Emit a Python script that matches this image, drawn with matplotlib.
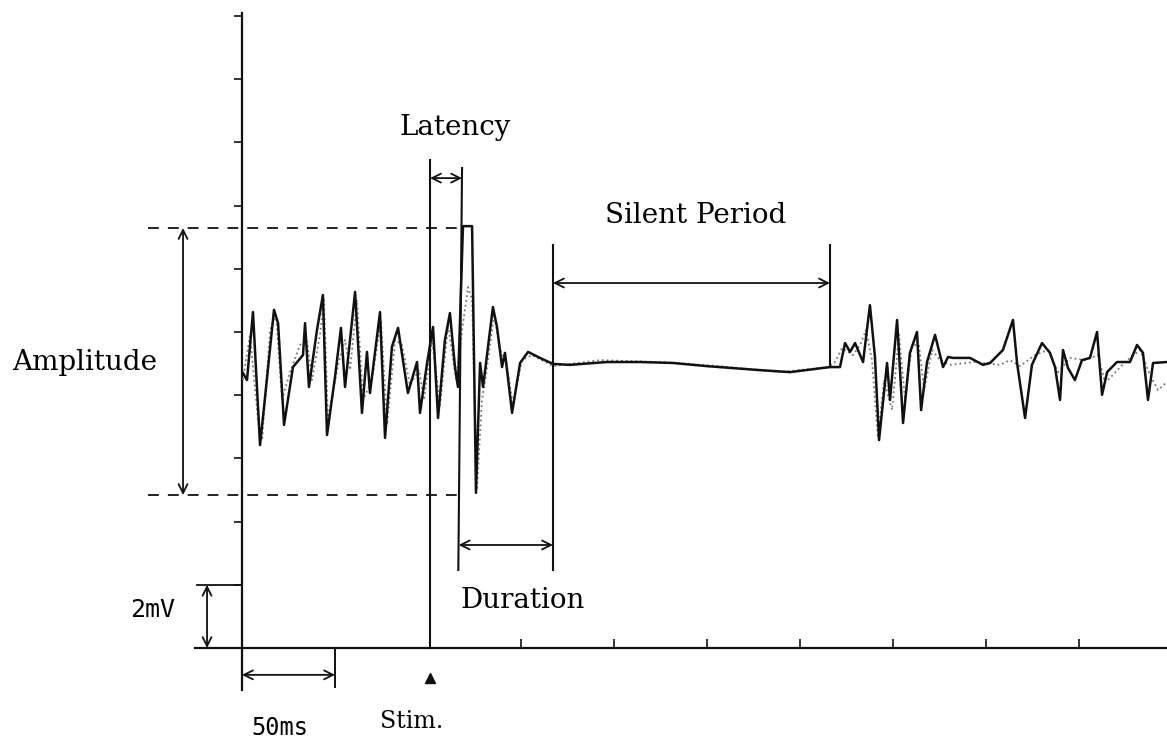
import matplotlib
matplotlib.use("Agg")
import matplotlib.pyplot as plt
import numpy as np

# EMG trace, time in ms from left axis, voltage in mV above the base line
t_main = [0.5, 2.7, 5.9, 9.7, 12.4, 17.2, 19.4, 22.6, 27.4, 32.8, 33.9, 36.0, 40.3, 43.5,
          45.7, 50.0, 53.2, 55.4, 60.8, 64.5, 67.2, 68.8, 74.2, 76.9, 80.6, 83.9, 89.2,
          94.1, 95.7, 99.5, 102.7, 105.4, 109.1, 111.8, 114.5, 116.1, 118.8, 123.7, 125.8,
          128.0, 129.6, 134.9, 137.1, 139.8, 141.4, 145.2, 149.5, 153.8, 160.2, 167.2,
          176.3, 196.2, 214.0, 231.7, 250.0, 276.9, 294.6, 316.1, 321.5, 324.2, 326.9,
          329.6, 333.9, 337.6, 340.3, 342.5, 346.8, 348.4, 352.2, 355.4, 359.1, 362.9,
          365.1, 368.3, 372.6, 376.9, 379.6, 382.3, 391.4, 398.4, 402.2, 409.1, 414.5,
          416.7, 421.0, 424.7, 430.1, 434.4, 437.1, 439.8, 441.4, 444.1, 447.8, 451.6,
          455.9, 459.7, 462.4, 465.1, 470.4, 477.4, 481.2, 484.4, 487.1, 489.8, 497.3]
v_main = [8.70, 8.48, 10.63, 6.42, 7.94, 10.70, 10.28, 7.06, 8.89, 9.27, 10.28, 8.26, 10.06,
          11.17, 6.74, 8.58, 10.13, 8.26, 11.27, 7.44, 9.37, 8.07, 10.63, 6.65, 9.53, 10.13,
          8.07, 9.05, 7.44, 9.02, 10.16, 7.28, 9.75, 10.60, 8.89, 8.26, 13.35, 13.35, 4.91,
          9.02, 8.26, 10.79, 10.16, 8.89, 9.34, 7.44, 9.02, 9.37, 9.18, 8.99, 8.96, 9.05,
          9.05, 9.02, 8.92, 8.80, 8.73, 8.89, 8.89, 9.65, 9.37, 9.65, 9.05, 10.85, 9.21,
          6.58, 9.02, 7.85, 10.38, 7.12, 9.34, 10.00, 7.53, 9.05, 9.91, 8.89, 9.21, 9.18,
          9.18, 8.96, 9.02, 9.43, 10.38, 9.02, 7.28, 8.96, 9.65, 9.34, 8.89, 7.85, 9.43,
          8.86, 8.48, 9.11, 9.18, 10.00, 8.01, 8.73, 9.05, 9.05, 9.59, 9.34, 7.85, 9.02,
          9.05]

# second (overlaid) recording
t_second = [0.5, 4.3, 8.6, 10.8, 15.1, 18.3, 21.5, 25.8, 31.2, 34.9, 37.6, 41.9, 44.1, 46.2,
            51.6, 55.4, 58.1, 61.8, 65.1, 69.9, 74.7, 78.0, 82.3, 86.0, 90.3, 95.2, 97.8,
            102.2, 106.5, 110.8, 115.1, 118.3, 121.5, 123.7, 126.3, 129.0, 131.2, 135.5,
            138.7, 141.9, 145.7, 150.5, 155.9, 167.2, 192.5, 224.7, 257.0, 289.2, 315.1,
            318.8, 322.6, 328.5, 332.3, 335.5, 338.7, 341.9, 345.2, 349.5, 353.2, 356.5,
            360.2, 364.0, 366.7, 371.0, 375.3, 380.6, 393.5, 407.5, 412.9, 418.3, 426.3,
            433.3, 438.7, 445.2, 453.2, 460.2, 464.0, 467.7, 474.7, 482.8, 488.2, 492.5, 497.3]
v_second = [8.48, 9.91, 7.22, 6.58, 10.06, 10.54, 7.85, 8.73, 9.59, 9.75, 8.48, 9.91, 11.01,
            7.22, 8.96, 9.75, 8.80, 11.01, 7.85, 8.48, 10.38, 7.06, 9.75, 9.59, 8.32, 8.80,
            7.85, 9.75, 7.69, 10.22, 8.48, 10.06, 11.42, 11.01, 5.00, 7.85, 8.64, 10.54,
            9.43, 9.11, 7.69, 9.11, 9.27, 8.92, 9.11, 9.05, 8.92, 8.73, 8.89, 9.05, 9.49,
            9.27, 9.59, 10.06, 9.11, 6.65, 8.48, 7.53, 9.91, 7.85, 9.59, 9.59, 8.16, 9.43,
            9.11, 8.96, 9.05, 8.96, 9.11, 8.92, 9.27, 9.43, 8.73, 9.18, 9.11, 9.27, 8.39,
            8.61, 9.05, 9.43, 8.64, 8.16, 8.42]

# measured markers (ms / mV)
stim_t = 101.1
latency_end = 118.3
duration_end = 167.2
silent_end = 316.1
amp_top = 13.29
amp_bottom = 4.84

y_ticks = np.arange(2, 21, 2)
x_ticks_up = np.arange(150, 451, 50)

PX_MS = 1.86
PX_MV = 31.6

fig = plt.figure(figsize=(11.67, 7.42), dpi=100)
ax = fig.add_axes([0, 0, 1, 1])
ax.set_xlim(-242 / PX_MS, 925 / PX_MS)
ax.set_ylim(-94 / PX_MV, 648 / PX_MV)
ax.axis("off")

k = "#111111"
serif = "DejaVu Serif"
mono = "DejaVu Sans Mono"
fs = 20

# axes
ax.plot([0, 0], [-1.33, 20.1], color=k, lw=1.6)
ax.plot([-25.3, 497.3], [0, 0], color=k, lw=1.6)
ax.hlines(y_ticks, -4.3, 0, color=k, lw=1.2)
ax.vlines(x_ticks_up, 0, 0.28, color=k, lw=1.2)
ax.vlines([0, 50], -1.27, 0, color=k, lw=1.4)

# traces
ax.plot(t_second, v_second, color="#777777", lw=1.3, ls=":")
ax.plot(t_main, v_main, color=k, lw=1.8)

def arrow(x0, y0, x1, y1):
    ax.annotate("", xy=(x1, y1), xytext=(x0, y0),
                arrowprops=dict(arrowstyle="<->", lw=1.3, color=k,
                                mutation_scale=16, shrinkA=0, shrinkB=0))

# amplitude
ax.plot([-50.5, latency_end], [amp_top, amp_top], color=k, lw=1.3, ls=(0, (6, 5)))
ax.plot([-50.5, latency_end], [amp_bottom, amp_bottom], color=k, lw=1.3, ls=(0, (6, 5)))
arrow(-31.7, amp_bottom, -31.7, amp_top)
ax.text(-84.4, 9.05, "Amplitude", family=serif, fontsize=fs, ha="center", va="center")

# stimulus and latency
ax.plot([stim_t, stim_t], [0, 15.44], color=k, lw=1.5)
ax.plot([stim_t], [-0.95], marker="^", color=k, ms=7)
ax.text(91.4, -2.34, "Stim.", family=serif, fontsize=17, ha="center", va="center")
ax.plot([latency_end, latency_end - 2], [15.19, 2.47], color=k, lw=1.5)
arrow(stim_t, 14.87, latency_end, 14.87)
ax.text(114.5, 16.46, "Latency", family=serif, fontsize=fs, ha="center", va="center")

# duration
ax.plot([duration_end, duration_end], [2.47, 12.75], color=k, lw=1.5)
arrow(latency_end - 1.8, 3.26, duration_end, 3.26)
ax.text(151.1, 1.49, "Duration", family=serif, fontsize=fs, ha="center", va="center")

# silent period
ax.plot([silent_end, silent_end], [8.89, 12.75], color=k, lw=1.5)
arrow(duration_end, 11.55, silent_end, 11.55)
ax.text(244.1, 13.70, "Silent Period", family=serif, fontsize=fs, ha="center", va="center")

# scale bars
ax.plot([-24.2, 0], [2.0, 2.0], color=k, lw=1.3)
arrow(-18.8, 0, -18.8, 2.0)
ax.text(-47.8, 1.2, "2mV", family=mono, fontsize=18, ha="center", va="center")
arrow(0, -0.85, 50, -0.85)
ax.text(20.4, -2.52, "50ms", family=mono, fontsize=17, ha="center", va="center")

fig.savefig("out.png", dpi=100)
